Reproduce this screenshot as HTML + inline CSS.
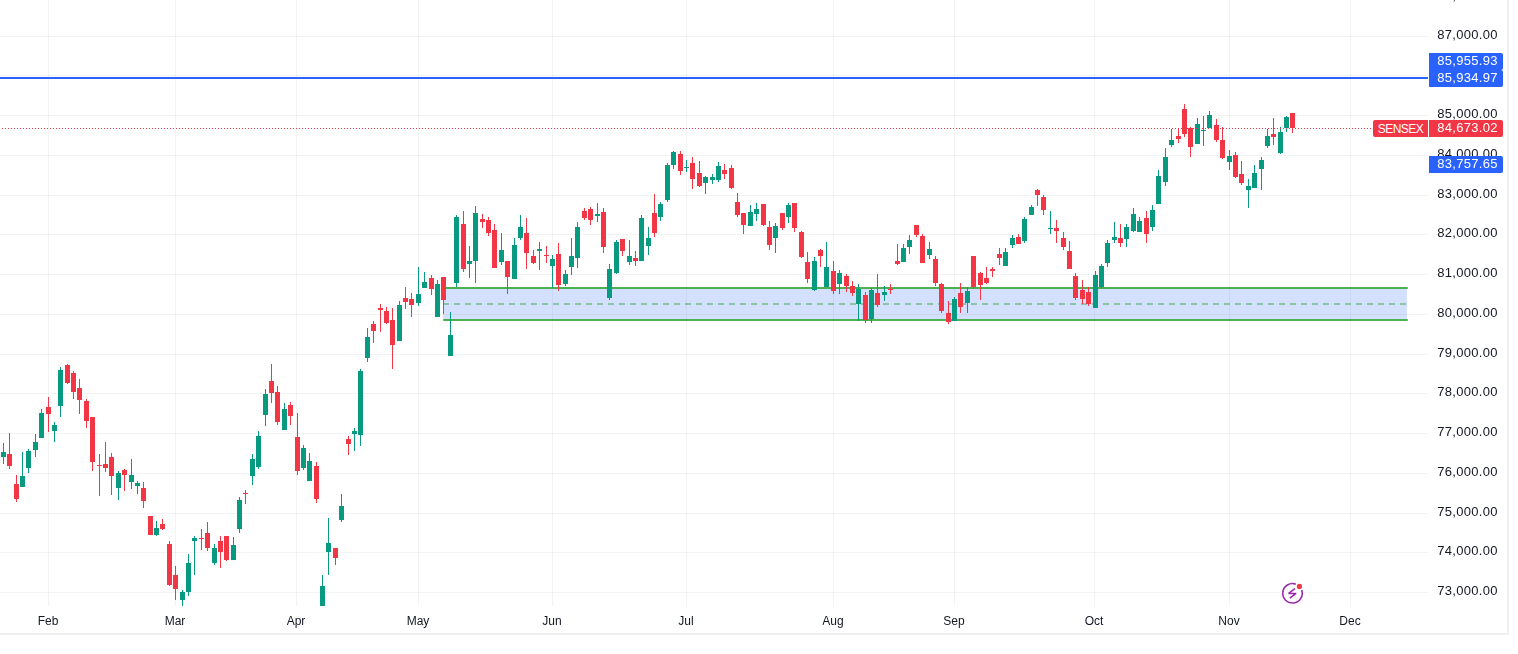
<!DOCTYPE html>
<html><head><meta charset="utf-8"><style>
html,body{margin:0;padding:0;background:#fff;}
body{width:1518px;height:654px;overflow:hidden;position:relative;font-family:"Liberation Sans",sans-serif;}
.pl,.tl,.lb{will-change:transform;}
svg{position:absolute;left:0;top:0;}
.pl{position:absolute;left:1429px;width:74px;text-align:right;font-size:13px;line-height:17px;color:#131722;white-space:nowrap;letter-spacing:0.32px;}
.pl span{display:inline-block;padding-right:5.1px;}
.tl{position:absolute;top:613px;font-size:12px;line-height:17px;color:#131722;transform:translateX(-50%);white-space:nowrap;}
.lb{position:absolute;left:1429px;width:74px;height:17px;color:#fff;font-size:13px;line-height:17px;text-align:right;border-radius:0 2px 2px 0;}
.lb span{display:inline-block;padding-right:5.1px;position:relative;top:-1px;letter-spacing:0.32px;}
</style></head><body>
<svg width="1518" height="654" viewBox="0 0 1518 654" shape-rendering="crispEdges">
<g><rect x="0" y="36" width="1428" height="1" fill="#2a2e39" fill-opacity="0.06"/><rect x="0" y="75" width="1428" height="1" fill="#2a2e39" fill-opacity="0.06"/><rect x="0" y="115" width="1428" height="1" fill="#2a2e39" fill-opacity="0.06"/><rect x="0" y="155" width="1428" height="1" fill="#2a2e39" fill-opacity="0.06"/><rect x="0" y="195" width="1428" height="1" fill="#2a2e39" fill-opacity="0.06"/><rect x="0" y="234" width="1428" height="1" fill="#2a2e39" fill-opacity="0.06"/><rect x="0" y="274" width="1428" height="1" fill="#2a2e39" fill-opacity="0.06"/><rect x="0" y="314" width="1428" height="1" fill="#2a2e39" fill-opacity="0.06"/><rect x="0" y="354" width="1428" height="1" fill="#2a2e39" fill-opacity="0.06"/><rect x="0" y="393" width="1428" height="1" fill="#2a2e39" fill-opacity="0.06"/><rect x="0" y="433" width="1428" height="1" fill="#2a2e39" fill-opacity="0.06"/><rect x="0" y="473" width="1428" height="1" fill="#2a2e39" fill-opacity="0.06"/><rect x="0" y="513" width="1428" height="1" fill="#2a2e39" fill-opacity="0.06"/><rect x="0" y="552" width="1428" height="1" fill="#2a2e39" fill-opacity="0.06"/><rect x="0" y="592" width="1428" height="1" fill="#2a2e39" fill-opacity="0.06"/><rect x="48" y="0" width="1" height="606" fill="#2a2e39" fill-opacity="0.06"/><rect x="175" y="0" width="1" height="606" fill="#2a2e39" fill-opacity="0.06"/><rect x="296" y="0" width="1" height="606" fill="#2a2e39" fill-opacity="0.06"/><rect x="418" y="0" width="1" height="606" fill="#2a2e39" fill-opacity="0.06"/><rect x="552" y="0" width="1" height="606" fill="#2a2e39" fill-opacity="0.06"/><rect x="686" y="0" width="1" height="606" fill="#2a2e39" fill-opacity="0.06"/><rect x="833" y="0" width="1" height="606" fill="#2a2e39" fill-opacity="0.06"/><rect x="954" y="0" width="1" height="606" fill="#2a2e39" fill-opacity="0.06"/><rect x="1094" y="0" width="1" height="606" fill="#2a2e39" fill-opacity="0.06"/><rect x="1229" y="0" width="1" height="606" fill="#2a2e39" fill-opacity="0.06"/><rect x="1350" y="0" width="1" height="606" fill="#2a2e39" fill-opacity="0.06"/></g>
<g><rect x="443" y="289" width="964" height="30" fill="#2962ff" fill-opacity="0.2"/><line x1="444" y1="288" x2="1407" y2="288" stroke="#4caf50" stroke-width="2" stroke-linecap="round" shape-rendering="auto"/><line x1="444" y1="320" x2="1407" y2="320" stroke="#4caf50" stroke-width="2" stroke-linecap="round" shape-rendering="auto"/><line x1="443" y1="304" x2="1408" y2="304" stroke="#4caf50" stroke-opacity="0.55" stroke-width="2" stroke-dasharray="6 5"/></g>
<g><rect x="3" y="443" width="1" height="21" fill="#089981"/><rect x="1" y="452" width="5" height="5" fill="#089981"/><rect x="9" y="433" width="1" height="36" fill="#F23645"/><rect x="7" y="454" width="5" height="12" fill="#F23645"/><rect x="16" y="475" width="1" height="27" fill="#F23645"/><rect x="14" y="484" width="5" height="15" fill="#F23645"/><rect x="22" y="452" width="1" height="35" fill="#089981"/><rect x="20" y="476" width="5" height="11" fill="#089981"/><rect x="28" y="449" width="1" height="24" fill="#089981"/><rect x="26" y="451" width="5" height="17" fill="#089981"/><rect x="35" y="434" width="1" height="23" fill="#089981"/><rect x="33" y="442" width="5" height="8" fill="#089981"/><rect x="41" y="409" width="1" height="29" fill="#089981"/><rect x="39" y="413" width="5" height="25" fill="#089981"/><rect x="48" y="397" width="1" height="35" fill="#F23645"/><rect x="46" y="407" width="5" height="7" fill="#F23645"/><rect x="54" y="422" width="1" height="20" fill="#089981"/><rect x="52" y="425" width="5" height="6" fill="#089981"/><rect x="60" y="367" width="1" height="50" fill="#089981"/><rect x="58" y="370" width="5" height="36" fill="#089981"/><rect x="67" y="364" width="1" height="20" fill="#F23645"/><rect x="65" y="365" width="5" height="18" fill="#F23645"/><rect x="73" y="371" width="1" height="28" fill="#F23645"/><rect x="71" y="373" width="5" height="19" fill="#F23645"/><rect x="79" y="379" width="1" height="35" fill="#F23645"/><rect x="77" y="388" width="5" height="12" fill="#F23645"/><rect x="86" y="399" width="1" height="29" fill="#F23645"/><rect x="84" y="401" width="5" height="20" fill="#F23645"/><rect x="92" y="417" width="1" height="54" fill="#F23645"/><rect x="90" y="417" width="5" height="45" fill="#F23645"/><rect x="99" y="454" width="1" height="42" fill="#F23645"/><rect x="97" y="465" width="5" height="1" fill="#F23645"/><rect x="105" y="442" width="1" height="30" fill="#F23645"/><rect x="103" y="464" width="5" height="4" fill="#F23645"/><rect x="111" y="453" width="1" height="42" fill="#F23645"/><rect x="109" y="457" width="5" height="19" fill="#F23645"/><rect x="118" y="471" width="1" height="29" fill="#089981"/><rect x="116" y="473" width="5" height="15" fill="#089981"/><rect x="124" y="469" width="1" height="22" fill="#F23645"/><rect x="122" y="470" width="5" height="5" fill="#F23645"/><rect x="131" y="459" width="1" height="30" fill="#089981"/><rect x="129" y="475" width="5" height="7" fill="#089981"/><rect x="137" y="481" width="1" height="13" fill="#089981"/><rect x="135" y="483" width="5" height="3" fill="#089981"/><rect x="143" y="482" width="1" height="26" fill="#F23645"/><rect x="141" y="488" width="5" height="13" fill="#F23645"/><rect x="150" y="516" width="1" height="19" fill="#F23645"/><rect x="148" y="516" width="5" height="19" fill="#F23645"/><rect x="156" y="521" width="1" height="15" fill="#089981"/><rect x="154" y="528" width="5" height="7" fill="#089981"/><rect x="162" y="519" width="1" height="11" fill="#F23645"/><rect x="160" y="524" width="5" height="5" fill="#F23645"/><rect x="169" y="541" width="1" height="45" fill="#F23645"/><rect x="167" y="544" width="5" height="41" fill="#F23645"/><rect x="175" y="566" width="1" height="34" fill="#F23645"/><rect x="173" y="575" width="5" height="14" fill="#F23645"/><rect x="182" y="590" width="1" height="16" fill="#089981"/><rect x="180" y="592" width="5" height="8" fill="#089981"/><rect x="188" y="554" width="1" height="42" fill="#089981"/><rect x="186" y="563" width="5" height="29" fill="#089981"/><rect x="194" y="536" width="1" height="39" fill="#089981"/><rect x="192" y="538" width="5" height="3" fill="#089981"/><rect x="201" y="529" width="1" height="21" fill="#F23645"/><rect x="199" y="538" width="5" height="1" fill="#F23645"/><rect x="207" y="522" width="1" height="29" fill="#F23645"/><rect x="205" y="533" width="5" height="15" fill="#F23645"/><rect x="214" y="544" width="1" height="21" fill="#089981"/><rect x="212" y="548" width="5" height="15" fill="#089981"/><rect x="220" y="536" width="1" height="32" fill="#F23645"/><rect x="218" y="541" width="5" height="11" fill="#F23645"/><rect x="226" y="536" width="1" height="25" fill="#F23645"/><rect x="224" y="536" width="5" height="24" fill="#F23645"/><rect x="233" y="537" width="1" height="23" fill="#089981"/><rect x="231" y="545" width="5" height="15" fill="#089981"/><rect x="239" y="497" width="1" height="36" fill="#089981"/><rect x="237" y="500" width="5" height="29" fill="#089981"/><rect x="245" y="490" width="1" height="14" fill="#F23645"/><rect x="243" y="493" width="5" height="1" fill="#F23645"/><rect x="252" y="454" width="1" height="31" fill="#089981"/><rect x="250" y="459" width="5" height="17" fill="#089981"/><rect x="258" y="431" width="1" height="38" fill="#089981"/><rect x="256" y="436" width="5" height="31" fill="#089981"/><rect x="265" y="389" width="1" height="37" fill="#089981"/><rect x="263" y="394" width="5" height="21" fill="#089981"/><rect x="271" y="364" width="1" height="39" fill="#F23645"/><rect x="269" y="381" width="5" height="12" fill="#F23645"/><rect x="277" y="386" width="1" height="39" fill="#F23645"/><rect x="275" y="392" width="5" height="30" fill="#F23645"/><rect x="284" y="403" width="1" height="27" fill="#089981"/><rect x="282" y="409" width="5" height="21" fill="#089981"/><rect x="290" y="402" width="1" height="23" fill="#F23645"/><rect x="288" y="405" width="5" height="11" fill="#F23645"/><rect x="297" y="413" width="1" height="62" fill="#F23645"/><rect x="295" y="437" width="5" height="34" fill="#F23645"/><rect x="303" y="445" width="1" height="25" fill="#089981"/><rect x="301" y="448" width="5" height="20" fill="#089981"/><rect x="309" y="453" width="1" height="28" fill="#089981"/><rect x="307" y="461" width="5" height="20" fill="#089981"/><rect x="316" y="462" width="1" height="41" fill="#F23645"/><rect x="314" y="466" width="5" height="33" fill="#F23645"/><rect x="322" y="575" width="1" height="31" fill="#089981"/><rect x="320" y="586" width="5" height="20" fill="#089981"/><rect x="328" y="518" width="1" height="57" fill="#089981"/><rect x="326" y="543" width="5" height="9" fill="#089981"/><rect x="335" y="548" width="1" height="17" fill="#F23645"/><rect x="333" y="548" width="5" height="10" fill="#F23645"/><rect x="341" y="494" width="1" height="28" fill="#089981"/><rect x="339" y="506" width="5" height="14" fill="#089981"/><rect x="348" y="436" width="1" height="19" fill="#F23645"/><rect x="346" y="439" width="5" height="5" fill="#F23645"/><rect x="354" y="428" width="1" height="23" fill="#089981"/><rect x="352" y="431" width="5" height="3" fill="#089981"/><rect x="360" y="369" width="1" height="77" fill="#089981"/><rect x="358" y="371" width="5" height="64" fill="#089981"/><rect x="367" y="328" width="1" height="34" fill="#089981"/><rect x="365" y="337" width="5" height="21" fill="#089981"/><rect x="373" y="321" width="1" height="22" fill="#F23645"/><rect x="371" y="324" width="5" height="7" fill="#F23645"/><rect x="380" y="304" width="1" height="28" fill="#F23645"/><rect x="378" y="308" width="5" height="2" fill="#F23645"/><rect x="386" y="307" width="1" height="17" fill="#F23645"/><rect x="384" y="311" width="5" height="12" fill="#F23645"/><rect x="392" y="308" width="1" height="61" fill="#F23645"/><rect x="390" y="320" width="5" height="25" fill="#F23645"/><rect x="399" y="301" width="1" height="40" fill="#089981"/><rect x="397" y="305" width="5" height="36" fill="#089981"/><rect x="405" y="287" width="1" height="22" fill="#F23645"/><rect x="403" y="298" width="5" height="4" fill="#F23645"/><rect x="411" y="293" width="1" height="24" fill="#F23645"/><rect x="409" y="299" width="5" height="6" fill="#F23645"/><rect x="418" y="267" width="1" height="39" fill="#089981"/><rect x="416" y="294" width="5" height="9" fill="#089981"/><rect x="424" y="272" width="1" height="16" fill="#089981"/><rect x="422" y="282" width="5" height="6" fill="#089981"/><rect x="431" y="275" width="1" height="20" fill="#F23645"/><rect x="429" y="278" width="5" height="11" fill="#F23645"/><rect x="437" y="280" width="1" height="37" fill="#089981"/><rect x="435" y="284" width="5" height="33" fill="#089981"/><rect x="443" y="277" width="1" height="37" fill="#F23645"/><rect x="441" y="277" width="5" height="23" fill="#F23645"/><rect x="450" y="312" width="1" height="44" fill="#089981"/><rect x="448" y="335" width="5" height="21" fill="#089981"/><rect x="456" y="215" width="1" height="72" fill="#089981"/><rect x="454" y="217" width="5" height="66" fill="#089981"/><rect x="463" y="211" width="1" height="61" fill="#F23645"/><rect x="461" y="224" width="5" height="45" fill="#F23645"/><rect x="469" y="246" width="1" height="32" fill="#089981"/><rect x="467" y="261" width="5" height="3" fill="#089981"/><rect x="475" y="206" width="1" height="77" fill="#089981"/><rect x="473" y="213" width="5" height="48" fill="#089981"/><rect x="482" y="214" width="1" height="14" fill="#F23645"/><rect x="480" y="219" width="5" height="3" fill="#F23645"/><rect x="488" y="217" width="1" height="19" fill="#F23645"/><rect x="486" y="220" width="5" height="13" fill="#F23645"/><rect x="494" y="224" width="1" height="44" fill="#F23645"/><rect x="492" y="230" width="5" height="38" fill="#F23645"/><rect x="501" y="233" width="1" height="32" fill="#089981"/><rect x="499" y="250" width="5" height="12" fill="#089981"/><rect x="507" y="261" width="1" height="33" fill="#F23645"/><rect x="505" y="261" width="5" height="16" fill="#F23645"/><rect x="514" y="238" width="1" height="41" fill="#089981"/><rect x="512" y="245" width="5" height="34" fill="#089981"/><rect x="520" y="215" width="1" height="25" fill="#089981"/><rect x="518" y="227" width="5" height="11" fill="#089981"/><rect x="526" y="218" width="1" height="51" fill="#F23645"/><rect x="524" y="233" width="5" height="20" fill="#F23645"/><rect x="533" y="250" width="1" height="14" fill="#F23645"/><rect x="531" y="256" width="5" height="7" fill="#F23645"/><rect x="539" y="242" width="1" height="28" fill="#089981"/><rect x="537" y="249" width="5" height="2" fill="#089981"/><rect x="546" y="246" width="1" height="17" fill="#F23645"/><rect x="544" y="255" width="5" height="1" fill="#F23645"/><rect x="552" y="255" width="1" height="33" fill="#089981"/><rect x="550" y="259" width="5" height="7" fill="#089981"/><rect x="558" y="243" width="1" height="48" fill="#F23645"/><rect x="556" y="254" width="5" height="31" fill="#F23645"/><rect x="565" y="270" width="1" height="16" fill="#089981"/><rect x="563" y="274" width="5" height="10" fill="#089981"/><rect x="571" y="238" width="1" height="37" fill="#089981"/><rect x="569" y="256" width="5" height="11" fill="#089981"/><rect x="577" y="222" width="1" height="46" fill="#089981"/><rect x="575" y="227" width="5" height="31" fill="#089981"/><rect x="584" y="208" width="1" height="12" fill="#F23645"/><rect x="582" y="211" width="5" height="7" fill="#F23645"/><rect x="590" y="207" width="1" height="18" fill="#F23645"/><rect x="588" y="209" width="5" height="11" fill="#F23645"/><rect x="597" y="203" width="1" height="19" fill="#089981"/><rect x="595" y="214" width="5" height="2" fill="#089981"/><rect x="603" y="208" width="1" height="45" fill="#F23645"/><rect x="601" y="212" width="5" height="35" fill="#F23645"/><rect x="609" y="264" width="1" height="36" fill="#089981"/><rect x="607" y="269" width="5" height="29" fill="#089981"/><rect x="616" y="240" width="1" height="34" fill="#089981"/><rect x="614" y="242" width="5" height="31" fill="#089981"/><rect x="622" y="239" width="1" height="17" fill="#F23645"/><rect x="620" y="239" width="5" height="12" fill="#F23645"/><rect x="629" y="240" width="1" height="25" fill="#089981"/><rect x="627" y="256" width="5" height="6" fill="#089981"/><rect x="635" y="251" width="1" height="15" fill="#F23645"/><rect x="633" y="258" width="5" height="3" fill="#F23645"/><rect x="641" y="215" width="1" height="46" fill="#089981"/><rect x="639" y="218" width="5" height="43" fill="#089981"/><rect x="648" y="227" width="1" height="28" fill="#089981"/><rect x="646" y="238" width="5" height="8" fill="#089981"/><rect x="654" y="194" width="1" height="43" fill="#F23645"/><rect x="652" y="213" width="5" height="20" fill="#F23645"/><rect x="660" y="202" width="1" height="19" fill="#089981"/><rect x="658" y="204" width="5" height="13" fill="#089981"/><rect x="667" y="163" width="1" height="39" fill="#089981"/><rect x="665" y="165" width="5" height="35" fill="#089981"/><rect x="673" y="151" width="1" height="18" fill="#089981"/><rect x="671" y="152" width="5" height="13" fill="#089981"/><rect x="680" y="151" width="1" height="24" fill="#F23645"/><rect x="678" y="154" width="5" height="17" fill="#F23645"/><rect x="686" y="160" width="1" height="12" fill="#089981"/><rect x="684" y="167" width="5" height="1" fill="#089981"/><rect x="692" y="157" width="1" height="32" fill="#F23645"/><rect x="690" y="163" width="5" height="16" fill="#F23645"/><rect x="699" y="161" width="1" height="26" fill="#F23645"/><rect x="697" y="173" width="5" height="13" fill="#F23645"/><rect x="705" y="176" width="1" height="18" fill="#089981"/><rect x="703" y="177" width="5" height="6" fill="#089981"/><rect x="712" y="174" width="1" height="10" fill="#089981"/><rect x="710" y="177" width="5" height="3" fill="#089981"/><rect x="718" y="162" width="1" height="20" fill="#089981"/><rect x="716" y="166" width="5" height="14" fill="#089981"/><rect x="724" y="164" width="1" height="15" fill="#F23645"/><rect x="722" y="170" width="5" height="4" fill="#F23645"/><rect x="731" y="165" width="1" height="24" fill="#F23645"/><rect x="729" y="168" width="5" height="20" fill="#F23645"/><rect x="737" y="193" width="1" height="24" fill="#F23645"/><rect x="735" y="202" width="5" height="13" fill="#F23645"/><rect x="743" y="213" width="1" height="21" fill="#F23645"/><rect x="741" y="213" width="5" height="12" fill="#F23645"/><rect x="750" y="205" width="1" height="21" fill="#089981"/><rect x="748" y="212" width="5" height="14" fill="#089981"/><rect x="756" y="203" width="1" height="18" fill="#089981"/><rect x="754" y="209" width="5" height="5" fill="#089981"/><rect x="763" y="204" width="1" height="22" fill="#F23645"/><rect x="761" y="204" width="5" height="21" fill="#F23645"/><rect x="769" y="221" width="1" height="29" fill="#F23645"/><rect x="767" y="227" width="5" height="18" fill="#F23645"/><rect x="775" y="223" width="1" height="30" fill="#089981"/><rect x="773" y="226" width="5" height="12" fill="#089981"/><rect x="782" y="213" width="1" height="17" fill="#F23645"/><rect x="780" y="213" width="5" height="15" fill="#F23645"/><rect x="788" y="203" width="1" height="20" fill="#089981"/><rect x="786" y="205" width="5" height="12" fill="#089981"/><rect x="794" y="203" width="1" height="29" fill="#F23645"/><rect x="792" y="203" width="5" height="25" fill="#F23645"/><rect x="801" y="231" width="1" height="27" fill="#F23645"/><rect x="799" y="232" width="5" height="25" fill="#F23645"/><rect x="807" y="252" width="1" height="31" fill="#F23645"/><rect x="805" y="262" width="5" height="17" fill="#F23645"/><rect x="814" y="257" width="1" height="34" fill="#089981"/><rect x="812" y="261" width="5" height="29" fill="#089981"/><rect x="820" y="249" width="1" height="18" fill="#F23645"/><rect x="818" y="250" width="5" height="6" fill="#F23645"/><rect x="826" y="242" width="1" height="45" fill="#089981"/><rect x="824" y="267" width="5" height="20" fill="#089981"/><rect x="833" y="261" width="1" height="33" fill="#F23645"/><rect x="831" y="271" width="5" height="20" fill="#F23645"/><rect x="839" y="270" width="1" height="24" fill="#089981"/><rect x="837" y="273" width="5" height="11" fill="#089981"/><rect x="846" y="274" width="1" height="18" fill="#F23645"/><rect x="844" y="276" width="5" height="10" fill="#F23645"/><rect x="852" y="281" width="1" height="15" fill="#F23645"/><rect x="850" y="286" width="5" height="7" fill="#F23645"/><rect x="858" y="284" width="1" height="37" fill="#089981"/><rect x="856" y="289" width="5" height="15" fill="#089981"/><rect x="865" y="292" width="1" height="31" fill="#F23645"/><rect x="863" y="295" width="5" height="25" fill="#F23645"/><rect x="871" y="288" width="1" height="35" fill="#089981"/><rect x="869" y="290" width="5" height="29" fill="#089981"/><rect x="877" y="274" width="1" height="33" fill="#F23645"/><rect x="875" y="293" width="5" height="12" fill="#F23645"/><rect x="884" y="286" width="1" height="15" fill="#089981"/><rect x="882" y="292" width="5" height="3" fill="#089981"/><rect x="890" y="284" width="1" height="10" fill="#F23645"/><rect x="888" y="289" width="5" height="1" fill="#F23645"/><rect x="897" y="244" width="1" height="21" fill="#F23645"/><rect x="895" y="261" width="5" height="3" fill="#F23645"/><rect x="903" y="244" width="1" height="18" fill="#089981"/><rect x="901" y="248" width="5" height="14" fill="#089981"/><rect x="909" y="235" width="1" height="19" fill="#089981"/><rect x="907" y="240" width="5" height="7" fill="#089981"/><rect x="916" y="225" width="1" height="12" fill="#F23645"/><rect x="914" y="225" width="5" height="10" fill="#F23645"/><rect x="922" y="234" width="1" height="29" fill="#F23645"/><rect x="920" y="236" width="5" height="27" fill="#F23645"/><rect x="929" y="242" width="1" height="17" fill="#089981"/><rect x="927" y="249" width="5" height="6" fill="#089981"/><rect x="935" y="256" width="1" height="30" fill="#F23645"/><rect x="933" y="259" width="5" height="24" fill="#F23645"/><rect x="941" y="283" width="1" height="30" fill="#F23645"/><rect x="939" y="284" width="5" height="27" fill="#F23645"/><rect x="948" y="301" width="1" height="23" fill="#F23645"/><rect x="946" y="313" width="5" height="9" fill="#F23645"/><rect x="954" y="297" width="1" height="24" fill="#089981"/><rect x="952" y="299" width="5" height="22" fill="#089981"/><rect x="960" y="283" width="1" height="30" fill="#F23645"/><rect x="958" y="293" width="5" height="14" fill="#F23645"/><rect x="967" y="287" width="1" height="26" fill="#089981"/><rect x="965" y="291" width="5" height="12" fill="#089981"/><rect x="973" y="256" width="1" height="33" fill="#F23645"/><rect x="971" y="256" width="5" height="31" fill="#F23645"/><rect x="980" y="272" width="1" height="28" fill="#F23645"/><rect x="978" y="273" width="5" height="12" fill="#F23645"/><rect x="986" y="267" width="1" height="17" fill="#F23645"/><rect x="984" y="278" width="5" height="5" fill="#F23645"/><rect x="992" y="267" width="1" height="10" fill="#F23645"/><rect x="990" y="269" width="5" height="2" fill="#F23645"/><rect x="999" y="248" width="1" height="17" fill="#F23645"/><rect x="997" y="254" width="5" height="4" fill="#F23645"/><rect x="1005" y="248" width="1" height="18" fill="#089981"/><rect x="1003" y="252" width="5" height="14" fill="#089981"/><rect x="1012" y="235" width="1" height="13" fill="#089981"/><rect x="1010" y="238" width="5" height="7" fill="#089981"/><rect x="1018" y="234" width="1" height="10" fill="#F23645"/><rect x="1016" y="237" width="5" height="7" fill="#F23645"/><rect x="1024" y="217" width="1" height="26" fill="#089981"/><rect x="1022" y="219" width="5" height="22" fill="#089981"/><rect x="1031" y="205" width="1" height="10" fill="#089981"/><rect x="1029" y="207" width="5" height="8" fill="#089981"/><rect x="1037" y="189" width="1" height="17" fill="#F23645"/><rect x="1035" y="190" width="5" height="5" fill="#F23645"/><rect x="1043" y="195" width="1" height="20" fill="#F23645"/><rect x="1041" y="197" width="5" height="13" fill="#F23645"/><rect x="1050" y="211" width="1" height="23" fill="#089981"/><rect x="1048" y="228" width="5" height="1" fill="#089981"/><rect x="1056" y="220" width="1" height="23" fill="#F23645"/><rect x="1054" y="228" width="5" height="3" fill="#F23645"/><rect x="1063" y="232" width="1" height="18" fill="#F23645"/><rect x="1061" y="238" width="5" height="9" fill="#F23645"/><rect x="1069" y="241" width="1" height="28" fill="#F23645"/><rect x="1067" y="251" width="5" height="18" fill="#F23645"/><rect x="1075" y="273" width="1" height="27" fill="#F23645"/><rect x="1073" y="276" width="5" height="22" fill="#F23645"/><rect x="1082" y="280" width="1" height="24" fill="#F23645"/><rect x="1080" y="290" width="5" height="9" fill="#F23645"/><rect x="1088" y="287" width="1" height="19" fill="#F23645"/><rect x="1086" y="292" width="5" height="12" fill="#F23645"/><rect x="1095" y="271" width="1" height="37" fill="#089981"/><rect x="1093" y="275" width="5" height="33" fill="#089981"/><rect x="1101" y="264" width="1" height="24" fill="#089981"/><rect x="1099" y="266" width="5" height="21" fill="#089981"/><rect x="1107" y="240" width="1" height="27" fill="#089981"/><rect x="1105" y="243" width="5" height="20" fill="#089981"/><rect x="1114" y="222" width="1" height="21" fill="#089981"/><rect x="1112" y="237" width="5" height="3" fill="#089981"/><rect x="1120" y="224" width="1" height="23" fill="#F23645"/><rect x="1118" y="238" width="5" height="5" fill="#F23645"/><rect x="1126" y="224" width="1" height="23" fill="#089981"/><rect x="1124" y="227" width="5" height="12" fill="#089981"/><rect x="1133" y="208" width="1" height="24" fill="#089981"/><rect x="1131" y="214" width="5" height="17" fill="#089981"/><rect x="1139" y="217" width="1" height="15" fill="#089981"/><rect x="1137" y="221" width="5" height="11" fill="#089981"/><rect x="1146" y="211" width="1" height="32" fill="#F23645"/><rect x="1144" y="218" width="5" height="16" fill="#F23645"/><rect x="1152" y="205" width="1" height="26" fill="#089981"/><rect x="1150" y="210" width="5" height="17" fill="#089981"/><rect x="1158" y="170" width="1" height="34" fill="#089981"/><rect x="1156" y="176" width="5" height="28" fill="#089981"/><rect x="1165" y="148" width="1" height="38" fill="#089981"/><rect x="1163" y="157" width="5" height="25" fill="#089981"/><rect x="1171" y="129" width="1" height="18" fill="#089981"/><rect x="1169" y="140" width="5" height="5" fill="#089981"/><rect x="1178" y="128" width="1" height="15" fill="#F23645"/><rect x="1176" y="136" width="5" height="3" fill="#F23645"/><rect x="1184" y="104" width="1" height="33" fill="#F23645"/><rect x="1182" y="109" width="5" height="25" fill="#F23645"/><rect x="1190" y="127" width="1" height="30" fill="#F23645"/><rect x="1188" y="128" width="5" height="19" fill="#F23645"/><rect x="1197" y="118" width="1" height="26" fill="#089981"/><rect x="1195" y="124" width="5" height="20" fill="#089981"/><rect x="1203" y="116" width="1" height="30" fill="#089981"/><rect x="1201" y="130" width="5" height="1" fill="#089981"/><rect x="1209" y="111" width="1" height="17" fill="#089981"/><rect x="1207" y="115" width="5" height="13" fill="#089981"/><rect x="1216" y="119" width="1" height="23" fill="#F23645"/><rect x="1214" y="125" width="5" height="15" fill="#F23645"/><rect x="1222" y="127" width="1" height="32" fill="#F23645"/><rect x="1220" y="140" width="5" height="18" fill="#F23645"/><rect x="1229" y="150" width="1" height="20" fill="#089981"/><rect x="1227" y="156" width="5" height="6" fill="#089981"/><rect x="1235" y="152" width="1" height="26" fill="#F23645"/><rect x="1233" y="155" width="5" height="22" fill="#F23645"/><rect x="1241" y="161" width="1" height="24" fill="#F23645"/><rect x="1239" y="174" width="5" height="9" fill="#F23645"/><rect x="1248" y="179" width="1" height="29" fill="#089981"/><rect x="1246" y="186" width="5" height="4" fill="#089981"/><rect x="1254" y="165" width="1" height="23" fill="#089981"/><rect x="1252" y="173" width="5" height="15" fill="#089981"/><rect x="1261" y="157" width="1" height="33" fill="#089981"/><rect x="1259" y="160" width="5" height="9" fill="#089981"/><rect x="1267" y="129" width="1" height="19" fill="#089981"/><rect x="1265" y="136" width="5" height="10" fill="#089981"/><rect x="1273" y="118" width="1" height="27" fill="#F23645"/><rect x="1271" y="134" width="5" height="3" fill="#F23645"/><rect x="1280" y="127" width="1" height="27" fill="#089981"/><rect x="1278" y="132" width="5" height="21" fill="#089981"/><rect x="1286" y="116" width="1" height="16" fill="#089981"/><rect x="1284" y="117" width="5" height="11" fill="#089981"/><rect x="1292" y="113" width="1" height="20" fill="#F23645"/><rect x="1290" y="113" width="5" height="15" fill="#F23645"/></g>
<rect x="0" y="77" width="1428" height="2" fill="#2962FF"/>
<line x1="2" y1="128.5" x2="1372" y2="128.5" stroke="#F23645" stroke-width="1" stroke-dasharray="1 2"/>
<rect x="1507" y="0" width="2" height="635" fill="#f0f0f0"/>
<rect x="0" y="633" width="1507" height="2" fill="#f0f0f0"/>
</svg>
<div class="pl" style="top:26px"><span>87,000.00</span></div>
<div class="pl" style="top:105px"><span>85,000.00</span></div>
<div class="pl" style="top:145px"><span>84,000.00</span></div>
<div class="pl" style="top:185px"><span>83,000.00</span></div>
<div class="pl" style="top:224px"><span>82,000.00</span></div>
<div class="pl" style="top:264px"><span>81,000.00</span></div>
<div class="pl" style="top:304px"><span>80,000.00</span></div>
<div class="pl" style="top:344px"><span>79,000.00</span></div>
<div class="pl" style="top:383px"><span>78,000.00</span></div>
<div class="pl" style="top:423px"><span>77,000.00</span></div>
<div class="pl" style="top:463px"><span>76,000.00</span></div>
<div class="pl" style="top:503px"><span>75,000.00</span></div>
<div class="pl" style="top:542px"><span>74,000.00</span></div>
<div class="pl" style="top:582px"><span>73,000.00</span></div>
<div class="pl" style="top:-13px"><span>88,000.00</span></div>
<div class="tl" style="left:47.5px">Feb</div>
<div class="tl" style="left:174.5px">Mar</div>
<div class="tl" style="left:295.5px">Apr</div>
<div class="tl" style="left:417.5px">May</div>
<div class="tl" style="left:551.5px">Jun</div>
<div class="tl" style="left:685.5px">Jul</div>
<div class="tl" style="left:832.5px">Aug</div>
<div class="tl" style="left:953.5px">Sep</div>
<div class="tl" style="left:1093.5px">Oct</div>
<div class="tl" style="left:1228.5px">Nov</div>
<div class="tl" style="left:1349.5px">Dec</div>
<div class="lb" style="top:53px;background:#2962FF"><span>85,955.93</span></div>
<div class="lb" style="top:70px;background:#2962FF"><span>85,934.97</span></div>
<div class="lb" style="top:120px;background:#F23645"><span>84,673.02</span></div>
<div style="position:absolute;left:1373px;top:120px;width:55px;height:17px;background:#F23645;border-radius:2px 0 0 2px;color:#fff;font-size:12px;line-height:17px;text-align:center;letter-spacing:-0.5px"><span style="position:relative;top:1px">SENSEX</span></div>
<div class="lb" style="top:156px;background:#2962FF"><span>83,757.65</span></div>
<svg style="position:absolute;left:1280px;top:581px" width="25" height="25" viewBox="0 0 25 25">
<circle cx="12.5" cy="12.3" r="12" fill="#fff"/>
<path d="M 15.83 3.14 A 9.75 9.75 0 1 0 21.66 8.97" fill="none" stroke="#9c27b0" stroke-width="1.6"/>
<path d="M14.9 7.6 L8.6 12.4 L16.1 12.4 L9.8 17.2" fill="none" stroke="#9c27b0" stroke-width="1.5" stroke-linejoin="bevel"/>
<circle cx="19.4" cy="5.4" r="2.6" fill="#F23645"/>
</svg>
</body></html>
